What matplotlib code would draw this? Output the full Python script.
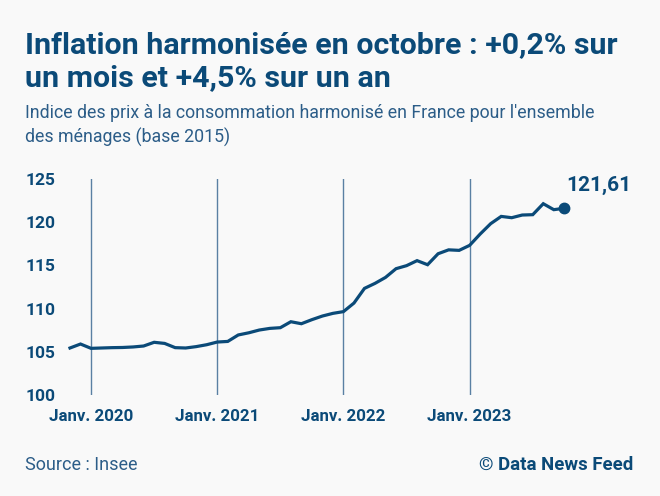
import matplotlib
matplotlib.use("Agg")
import matplotlib.pyplot as plt

# IPCH France, base 2015, nov. 2019 -> oct. 2023
valeurs = [105.44, 105.90,
           105.40, 105.44, 105.48, 105.50, 105.56, 105.67, 106.10, 105.97, 105.48, 105.44, 105.60, 105.82,
           106.13, 106.20, 106.95, 107.20, 107.52, 107.71, 107.79, 108.48, 108.25, 108.72, 109.14, 109.45,
           109.65, 110.64, 112.34, 112.92, 113.61, 114.62, 114.97, 115.55, 115.08, 116.35, 116.80, 116.74,
           117.32, 118.63, 119.83, 120.67, 120.52, 120.83, 120.87, 122.14, 121.45, 121.61]
mois = list(range(len(valeurs)))
janv_pos = [2, 14, 26, 38]
janv_labels = ["Janv. 2020", "Janv. 2021", "Janv. 2022", "Janv. 2023"]
y_ticks = [100, 105, 110, 115, 120, 125]
dernier_label = "121,61"

bleu = "#0b4a78"
bleu_clair = "#2c5d88"
fond = "#f9f9f9"
plt.rcParams['font.family'] = ['Roboto', 'DejaVu Sans']

fig = plt.figure(figsize=(6.6, 4.96), dpi=100, facecolor=fond)
ax = fig.add_axes([70 / 660, 101 / 496, 494.3 / 660, 216 / 496])
ax.set_facecolor(fond)

for x in janv_pos:
    ax.axvline(x, color="#5a80a3", lw=1.0, zorder=1)

ax.plot(mois, valeurs, color=bleu, lw=2.3, solid_joinstyle="miter", zorder=3, clip_on=False)
ax.plot(mois[-1], valeurs[-1], "o", color=bleu, ms=7.5, zorder=4, clip_on=False)
ax.text(mois[-1] + 0.15, 124.2, dernier_label, color=bleu, fontsize=15, fontweight="bold",
        va="center", ha="left")

ax.set_xlim(0, len(valeurs) - 1)
ax.set_ylim(100, 125)
ax.set_yticks(y_ticks)
ax.set_yticklabels([str(v) for v in y_ticks], fontweight="bold", fontsize=12.5, color=bleu)
ax.set_xticks(janv_pos)
ax.set_xticklabels(janv_labels, fontweight="bold", fontsize=12.2, color=bleu)
ax.tick_params(length=0)
ax.tick_params(axis="x", pad=10)
ax.tick_params(axis="y", pad=10.5)
for s in ax.spines.values():
    s.set_visible(False)

fig.text(25 / 660, 1 - 45 / 496, "Inflation harmonisée en octobre : +0,2% sur", color=bleu,
         fontsize=21.9, fontweight="bold", va="center", ha="left")
fig.text(25 / 660, 1 - 78 / 496, "un mois et +4,5% sur un an", color=bleu,
         fontsize=21.9, fontweight="bold", va="center", ha="left")
fig.text(25 / 660, 1 - 113 / 496, "Indice des prix à la consommation harmonisé en France pour l'ensemble",
         color=bleu_clair, fontsize=12.8, va="center", ha="left")
fig.text(25 / 660, 1 - 137 / 496, "des ménages (base 2015)",
         color=bleu_clair, fontsize=12.8, va="center", ha="left")
fig.text(25 / 660, 1 - 465 / 496, "Source : Insee", color=bleu_clair, fontsize=13,
         va="center", ha="left")
fig.text(633 / 660, 1 - 465 / 496, "© Data News Feed", color=bleu, fontsize=13.4,
         fontweight="bold", va="center", ha="right")

fig.savefig("out.png", dpi=100, facecolor=fond)
